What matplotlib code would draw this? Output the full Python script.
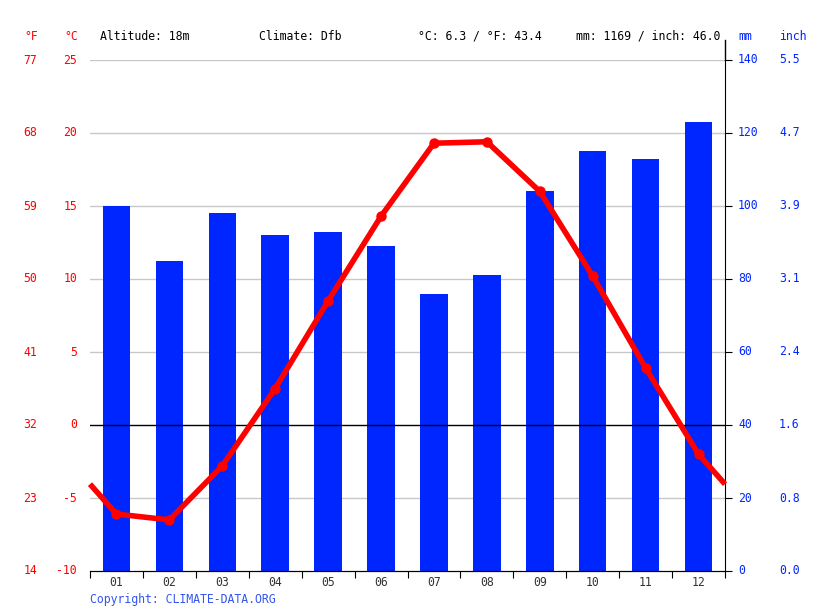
import numpy as np
import matplotlib
matplotlib.use("Agg")
import matplotlib.pyplot as plt
from matplotlib.lines import Line2D

# monthly climate values
months = ["01", "02", "03", "04", "05", "06", "07", "08", "09", "10", "11", "12"]
temp_c = [-6.1, -6.5, -2.8, 2.5, 8.5, 14.3, 19.3, 19.4, 16.0, 10.2, 3.9, -2.0]
precip_mm = [100, 85, 98, 92, 93, 89, 76, 81, 104, 115, 113, 123]

c_ticks = [-10, -5, 0, 5, 10, 15, 20, 25]
mm_ticks = [0, 20, 40, 60, 80, 100, 120, 140]

header = ["Altitude: 18m", "Climate: Dfb", "°C: 6.3 / °F: 43.4", "mm: 1169 / inch: 46.0"]

RED = "#ff0000"
BLUE = "#0026ff"
FONT = "DejaVu Sans Mono"
FS = 8.3

plt.rcParams["font.family"] = FONT

fig = plt.figure(figsize=(8.15, 6.11), dpi=100)
W, H = 815, 611
ax = fig.add_axes([90 / W, 40 / H, 635 / W, 511 / H])
ax2 = ax.twinx()

x = np.arange(len(months))

# bars on mm axis
ax2.bar(x, precip_mm, width=0.52, color=BLUE, zorder=2)
ax2.set_ylim(0, 140)

# temperature line, wrapped half a month at each side
edge = (temp_c[0] + temp_c[-1]) / 2
xl = np.concatenate([[-0.5], x, [11.5]])
yl = np.concatenate([[edge], temp_c, [edge]])
ax.set_zorder(ax2.get_zorder() + 1)
ax.patch.set_visible(False)
ax.plot(xl, yl, color=RED, lw=4, solid_capstyle="butt", zorder=5, clip_on=False)
ax.plot(x, temp_c, "o", color=RED, ms=6.5, zorder=6)

ax.set_xlim(-0.5, 11.5)
ax.set_ylim(-10, 25)

# grid
for c in c_ticks[1:]:
    if c == 0:
        ax.axhline(0, color="black", lw=1, zorder=3)
    else:
        ax2.axhline((c + 10) * 4, color="#c8c8c8", lw=1, zorder=1)

for a in (ax, ax2):
    for s in ("left", "top"):
        a.spines[s].set_visible(False)
ax.spines["right"].set_visible(False)
ax2.spines["right"].set_color("black")
ax2.spines["bottom"].set_color("black")
ax.spines["bottom"].set_color("black")

# x ticks: marks at month boundaries, labels centred
ax.set_xticks(np.arange(-0.5, 12, 1))
ax.set_xticklabels([])
ax.tick_params(axis="x", length=5, color="black", direction="out")
for i, m in enumerate(months):
    ax.text(i, -11 / 511, m, transform=ax.get_xaxis_transform(), ha="center", va="center",
            fontsize=FS, color="#333333")

ax.set_yticks([])
ax2.set_yticks(mm_ticks)
ax2.set_yticklabels([])
ax2.tick_params(axis="y", length=5, color="black", direction="out")

# left labels (°F and °C)
ytr = ax.get_yaxis_transform()
for c in c_ticks:
    f = c * 9 / 5 + 32
    ax.text((37 - 90) / 635, c, "%d" % f, transform=ytr, ha="right", va="center",
            fontsize=FS, color=RED)
    ax.text((77 - 90) / 635, c, "%d" % c, transform=ytr, ha="right", va="center",
            fontsize=FS, color=RED)

# right labels (mm and inch)
ytr2 = ax2.get_yaxis_transform()
for m in mm_ticks:
    ax2.text((738 - 90) / 635, m, "%d" % m, transform=ytr2, ha="left", va="center",
             fontsize=FS, color=BLUE)
    ax2.text((779 - 90) / 635, m, "%.1f" % (m / 25.4), transform=ytr2, ha="left",
             va="center", fontsize=FS, color=BLUE)

# right spine stub above the plot
fig.add_artist(Line2D([725 / W, 725 / W], [(H - 60) / H, (H - 40) / H],
                      color="black", lw=1))

# header row
ty = (H - 36) / H
fig.text(24 / W, ty, "°F", color=RED, fontsize=FS, va="center")
fig.text(64 / W, ty, "°C", color=RED, fontsize=FS, va="center")
for xp, t in zip([100, 259, 418, 576], header):
    fig.text(xp / W, ty, t, color="black", fontsize=FS, va="center")
fig.text(738 / W, ty, "mm", color=BLUE, fontsize=FS, va="center")
fig.text(779 / W, ty, "inch", color=BLUE, fontsize=FS, va="center")

fig.text(90 / W, (H - 599) / H, "Copyright: CLIMATE-DATA.ORG", color="#3355ee",
         fontsize=FS, va="center")

fig.savefig("out.png", dpi=100)
